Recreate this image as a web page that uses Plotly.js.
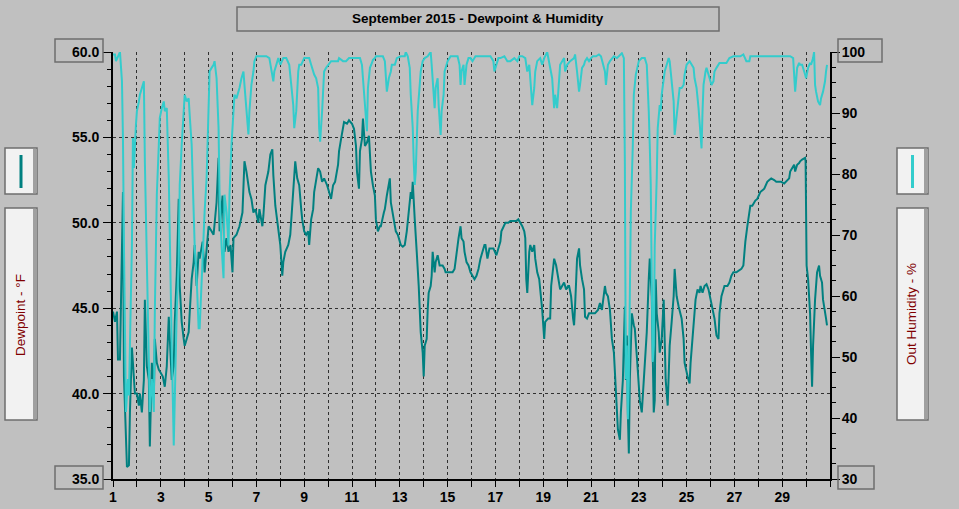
<!DOCTYPE html>
<html>
<head>
<meta charset="utf-8">
<script src="https://cdn.plot.ly/plotly-3.0.1.min.js"></script>
<style>
  html, body { margin: 0; padding: 0; background: #c0c0c0; }
  #myDiv { width: 959px; height: 509px; }
</style>
</head>
<body>
<div id="myDiv"></div>
<script>
/**************************************************************/
// readings: hours since Sep 1 00:00
var dewHour = [0,2,4,5,7,9,10,11,12,14,16,17,19,21,22,24,26,27,29,31,32,34,36,37,39,41,42,44,46,48,50,52,54,56,57,59,61,62,64,66,67,69,71,72,74,76,77,79,81,82,84,86,87,90,92,94,96,99,101,104,106,107,110,112,114,116,118,120,121,124,127,130,132,134,136,137,139,141,143,146,147,150,151,153,156,158,160,161,163,166,168,170,171,173,176,178,180,182,183,185,187,189,190,192,194,196,197,199,201,202,204,206,208,210,212,215,217,219,221,223,226,227,229,231,232,235,237,240,242,244,245,247,248,250,251,253,255,257,259,261,263,264,266,268,269,272,273,275,277,278,279,281,283,284,286,288,289,291,293,295,297,299,300,301,303,304,305,307,308,309,311,312,313,315,316,317,319,320,321,323,324,326,328,329,331,333,334,336,339,341,343,345,347,349,350,352,353,355,357,359,361,363,365,367,369,371,373,374,376,378,380,382,385,387,389,390,392,394,397,399,402,405,407,409,411,413,414,415,416,418,419,421,423,424,426,428,429,431,433,434,437,439,440,442,443,445,447,449,451,453,455,457,458,460,462,463,464,466,468,469,471,473,474,476,478,480,482,484,487,489,491,493,494,495,497,499,501,503,505,506,507,509,510,512,513,514,515,516,517,518,519,521,523,524,526,528,529,531,533,534,536,538,539,541,542,543,544,545,546,548,549,551,553,554,555,557,558,559,561,563,564,566,568,569,571,573,574,577,579,580,582,584,585,587,589,590,592,594,596,598,601,603,604,606,608,609,611,613,614,617,619,621,623,626,629,631,633,634,635,637,639,640,642,644,645,647,649,650,654,657,659,661,664,666,669,671,674,676,679,680,682,684,685,687,689,690,692,695,695.5,696,696.5,698,700,701,702,703,704,705,707,709,710,712,713,715,716,717];
var dewF = [44.8,44.2,44.8,42.0,42.0,47.3,51.8,41.0,38.9,35.7,35.8,38.9,42.7,41.0,40.0,40.0,39.3,40.0,38.9,40.8,45.5,41.6,40.8,36.9,41.8,39.8,43.2,41.8,41.4,41.2,41.0,40.4,41.6,44.5,43.4,40.8,41.6,44.2,46.9,51.4,46.3,44.2,43.2,42.8,43.2,43.6,44.7,46.7,47.7,48.7,46.3,48.3,47.9,48.9,47.1,48.3,49.8,49.5,49.3,51.2,53.8,49.5,51.6,48.3,49.1,48.3,48.7,47.1,49.1,49.3,49.8,50.6,53.6,53.0,52.0,51.8,51.4,50.6,50.8,50.0,50.8,49.8,50.4,52.2,53.0,54.0,54.3,52.8,51.0,49.6,48.7,46.9,47.7,48.3,48.7,49.3,51.0,53.0,53.6,52.6,52.2,50.8,50.2,49.5,49.3,49.5,48.7,50.2,50.8,51.8,52.6,53.2,53.0,52.4,52.6,52.2,51.8,51.4,52.2,52.4,53.4,54.2,54.9,55.5,55.9,55.8,56.0,55.8,55.5,54.5,53.0,52.0,54.2,54.9,56.1,54.5,54.7,55.1,53.0,52.2,51.6,50.2,49.5,49.8,49.8,50.6,50.8,51.6,52.2,52.6,51.2,50.6,49.8,49.5,49.3,48.9,48.7,48.6,48.7,49.5,50.6,51.8,51.4,52.4,50.2,48.7,48.3,46.3,44.9,43.6,42.4,41.0,42.8,43.2,44.9,45.9,46.3,46.9,48.3,47.1,47.7,48.1,47.5,47.5,47.5,47.3,47.1,47.1,47.1,47.1,47.3,48.3,49.1,49.8,49.1,48.9,48.3,47.7,47.5,47.1,46.9,46.7,46.9,47.3,47.9,48.3,48.7,48.7,47.9,48.5,48.5,48.5,48.1,48.5,48.9,49.5,49.8,50.0,50.0,50.1,50.1,50.1,50.2,50.0,49.8,49.5,49.1,46.7,45.9,48.3,48.7,48.3,48.7,47.9,47.1,46.7,46.1,44.9,43.2,44.2,44.4,44.4,46.3,47.5,47.9,47.5,46.9,46.1,46.3,46.5,46.1,46.3,46.3,45.7,44.4,44.0,45.1,47.9,48.5,47.5,46.7,46.1,44.5,44.4,44.7,44.7,44.7,44.7,44.9,45.3,44.9,45.7,46.3,45.9,45.7,44.9,43.2,42.4,40.4,38.9,37.9,37.3,38.9,40.8,43.8,45.1,40.8,43.4,38.9,36.5,40.8,44.7,44.0,43.8,42.2,40.8,39.6,38.9,40.8,41.8,43.6,46.7,47.9,45.7,42.8,38.9,39.6,46.7,44.7,43.6,42.4,43.2,45.5,43.8,40.8,39.3,40.8,42.8,44.2,45.7,47.3,45.7,45.1,44.9,44.4,43.2,41.8,41.0,40.6,41.8,43.4,44.7,45.5,46.1,45.9,46.3,45.9,46.3,46.4,46.1,45.3,44.7,44.4,43.4,43.2,44.7,45.7,46.1,46.3,46.3,46.5,46.9,47.1,47.1,47.2,47.3,47.5,48.3,48.9,49.8,50.8,51.0,51.0,51.2,51.3,51.4,51.7,51.8,52.0,52.4,52.5,52.6,52.5,52.4,52.4,52.4,52.3,52.4,52.6,53.0,53.2,53.4,53.0,53.4,53.5,53.6,53.7,53.8,53.6,50.6,47.5,46.7,44.7,42.4,40.4,42.8,44.7,45.5,47.1,47.5,46.9,46.5,45.5,44.9,44.4,44.0];

var humHour = [0,2,3,6,7,9,10,11,12,13,15,16,17,19,20,21,23,24,26,27,29,31,32,33,34,36,37,39,41,42,44,46,47,49,51,52,54,56,57,58,59,61,62,64,66,67,69,71,72,74,76,77,79,81,82,84,86,87,89,91,92,94,96,97,99,101,102,104,106,107,109,111,112,114,116,117,119,121,122,124,126,127,129,131,132,134,136,137,139,141,142,144,147,151,154,157,159,161,162,164,166,168,171,174,177,179,181,182,184,186,187,189,191,192,196,197,199,201,202,204,206,207,208,210,212,214,216,219,222,226,227,231,234,237,240,244,248,250,252,253,255,256,258,260,261,263,264,268,271,273,274,275,277,279,280,283,285,288,289,293,294,296,298,299,301,302,303,304,305,306,308,309,311,313,316,319,320,322,323,324,326,327,329,330,332,333,335,336,339,343,346,348,349,350,352,353,355,357,359,361,364,369,374,379,382,383,385,387,389,393,396,399,403,406,408,411,414,416,418,419,421,423,424,426,429,431,433,436,438,439,441,443,444,446,448,449,453,454,456,459,463,464,466,468,469,471,473,474,476,478,480,482,485,488,490,492,494,495,497,499,501,503,506,508,511,513,513.5,514,514.5,515,516,517,518,519,520,522,523,525,527,528,531,534,536,537,538,539,540,541,542,543,544,546,547,549,550,551,553,554,556,558,559,560,561,563,564,566,568,569,571,573,574,576,579,581,583,584,586,588,589,591,592,593,595,596,598,599,601,603,604,606,609,613,616,619,623,627,630,633,636,639,640,644,647,660,672,680,683,684,685,687,689,690,692,695,696,698,700,701,703,704,705,706,708,710,711,713,715,716,717];
var humPct = [99.6,99.6,98.5,99.6,100,95.2,85.9,68.3,47.5,41,46.4,43.7,51.9,68.3,85.9,81,88,90.3,91.9,93,94.1,95.2,82,73.8,59.6,46.4,41,46.4,41,57.4,76.6,84.8,89.2,90.8,91.9,90.3,90.8,79.3,68.3,60.1,51.9,35.5,43.7,57.4,65.6,78.2,84.8,91.3,93,91.9,92.4,89.7,84.8,73.8,68.3,62.9,54.7,54.7,62.9,68.3,73.8,79.3,90.3,96.8,97.4,97.9,98.5,95.7,87.5,76.6,68.3,62.9,76.6,73.8,68.3,76.6,84.8,91.3,93,92.4,93.5,94.1,95.7,96.8,94.6,90.3,86.5,90.3,94.6,96.8,98.5,99.3,99.3,99.3,99.3,99,97.4,95.2,96.8,97.9,99,97.9,99,99,97.9,94.6,91.3,87.5,90.3,96.8,97.9,97.9,98.5,99,99,99,97.9,96.8,96.3,95.7,94.1,87.5,85.3,90.3,96.8,97.4,97.9,98.5,98.5,98.5,99,98.5,98.5,99,99,99,99,97.9,93,90.3,87,94.1,97.4,98.2,98.7,99,99.3,99.3,99.3,98.5,96.3,93.5,95.7,96.8,97.9,97.9,99,99.3,99.3,99.3,100,99.3,97.4,93,87.5,82,78.2,80.3,85.9,90.3,94.6,96.8,98.5,99,99.3,100,97.9,93,90.8,94.1,95.7,91.3,86.4,90.3,93,96.8,97.9,98.5,99.3,99.3,99.3,97.9,94.6,96.8,97.9,94.6,97.9,99,99,98.5,99.3,99.3,99.3,99.3,98.5,96.8,97.9,99,99,99.3,98.5,98.5,99,98.5,99.3,99.3,99,96.8,97.9,95.2,91.3,94.1,96.8,98.5,99,97.9,99,100,98.5,97.4,95.7,90.8,93,90.8,96.3,97.9,99,96.8,97.9,98.5,99,99.6,96.8,93.5,94.6,97.4,97.9,98.5,99,98.5,99,99.3,99.3,99.6,99.3,97.9,96.8,94.6,97.9,98.5,99,99.3,99,99.3,99.8,99,91.3,82,62.9,46.4,51.9,39.8,46.4,62.9,73.8,84.8,93,96.3,97.9,98.5,99,99,97.9,94.6,90.3,84.8,78.2,62.9,49.2,51.9,68.3,79.3,87.5,91.3,90.3,93,95.7,96.8,97.9,99,98.5,96.8,95.7,91.9,86.4,89.1,92.4,94.1,94.1,94.6,96.3,97.9,98.5,97.9,97.4,95.7,94.1,90.8,88.6,84.2,90.3,94.6,96.8,97.4,96.3,95.7,94.6,95.2,96.8,97.4,98.2,98.2,98.2,99,99.3,99.3,99.3,99.6,98.5,98.5,99.3,99.3,99.3,99.3,99.3,99.3,99,96.8,93.5,97.4,98.2,97.9,97.9,96.3,95.7,97.4,98.2,97.9,99,100,94.6,93.5,91.9,91.3,92.4,93.5,95.2,96.8,97.9];

var dayTicks = [];
var dayLabels = [];
for (var d = 1; d <= 31; d++) {
  dayTicks.push(d);
  dayLabels.push((d % 2 == 1 && d < 31) ? String(d) : "");
}

var titleText = "September 2015 - Dewpoint & Humidity";
var dewName = "Dewpoint - °F";
var humName = "Out Humidity - %";

var dewColor = "#008080";
var humColor = "#33cccc";

/**************************************************************/
function hoursToDay(h) {
  return h.map(function(v) { return 1 + v / 24; });
}

// pixel helpers for the decoration boxes around the plot area
var L = 113, T = 52, W = 717, H = 427;
function px(x) { return (x - L) / W; }
function py(y) { return 1 - (y - T) / H; }

function box(x0, y0, x1, y1, fill) {
  return {
    type: 'rect', xref: 'paper', yref: 'paper', layer: 'above',
    x0: px(x0), x1: px(x1), y0: py(y0), y1: py(y1),
    line: { color: '#6e6e6e', width: 1.5 },
    fillcolor: fill || 'rgba(0,0,0,0)'
  };
}
function strip(x0, y0, x1, y1, fill) {
  return {
    type: 'rect', xref: 'paper', yref: 'paper', layer: 'above',
    x0: px(x0), x1: px(x1), y0: py(y0), y1: py(y1),
    line: { width: 0 }, fillcolor: fill
  };
}
function glyph(x, color) {
  return {
    type: 'line', xref: 'paper', yref: 'paper', layer: 'above',
    x0: px(x), x1: px(x), y0: py(155), y1: py(188),
    line: { color: color, width: 3 }
  };
}

var tickFont = { family: 'Liberation Sans, Arial, sans-serif', size: 14, color: '#000', weight: 'bold' };

var data = [
  { x: hoursToDay(dewHour), y: dewF, name: dewName, type: 'scatter', mode: 'lines',
    line: { color: dewColor, width: 2 }, yaxis: 'y' },
  { x: hoursToDay(humHour), y: humPct, name: humName, type: 'scatter', mode: 'lines',
    line: { color: humColor, width: 2 }, yaxis: 'y2' }
];

var layout = {
  width: 959, height: 509,
  paper_bgcolor: '#c0c0c0', plot_bgcolor: '#c0c0c0',
  margin: { l: L, r: 959 - L - W, t: T, b: 509 - T - H, pad: 0 },
  showlegend: false,
  hovermode: false,
  xaxis: {
    range: [1, 31], tickmode: 'array', tickvals: dayTicks, ticktext: dayLabels,
    ticks: 'outside', ticklen: 6, tickwidth: 1, tickcolor: '#000',
    showline: true, linecolor: '#000', linewidth: 2,
    showgrid: true, gridcolor: '#303030', gridwidth: 1, griddash: '3px,3px',
    zeroline: false, tickfont: tickFont, ticklabelstandoff: -2, fixedrange: true
  },
  yaxis: {
    range: [35, 60], tick0: 35, dtick: 5, tickformat: '.1f',
    ticks: 'outside', ticklen: 8, tickwidth: 1, tickcolor: '#000',
    minor: { dtick: 1, ticks: 'outside', ticklen: 4, tickwidth: 1, tickcolor: '#000', showgrid: false },
    showline: true, linecolor: '#000', linewidth: 2,
    showgrid: true, gridcolor: '#303030', gridwidth: 1, griddash: '3px,3px',
    zeroline: false, tickfont: tickFont, ticklabelstandoff: 1, fixedrange: true
  },
  yaxis2: {
    overlaying: 'y', side: 'right', range: [30, 100], tick0: 30, dtick: 10,
    ticks: 'outside', ticklen: 8, tickwidth: 1, tickcolor: '#000',
    minor: { dtick: 2.5, ticks: 'outside', ticklen: 4, tickwidth: 1, tickcolor: '#000', showgrid: false },
    showline: true, linecolor: '#000', linewidth: 2,
    showgrid: false, zeroline: false, tickfont: tickFont, ticklabelstandoff: -1, fixedrange: true
  },
  shapes: [
    box(237, 7, 719, 31),
    box(55, 39, 103, 62),
    box(55, 466, 103, 489),
    box(838, 39, 882, 62),
    box(838, 466, 874, 489),
    box(5, 148, 37, 194, '#f2f2f2'),
    strip(33, 149, 37, 193, '#a0a0a0'),
    box(5, 208, 37, 420, '#f2f2f2'),
    strip(33, 209, 37, 419, '#a0a0a0'),
    box(897, 148, 928, 194, '#f2f2f2'),
    strip(924, 149, 928, 193, '#a0a0a0'),
    box(897, 208, 928, 420, '#f2f2f2'),
    strip(924, 209, 928, 419, '#a0a0a0'),
    glyph(21, dewColor),
    glyph(912.5, humColor)
  ],
  annotations: [
    { text: titleText, xref: 'paper', yref: 'paper', x: px(478), y: py(19),
      showarrow: false, xanchor: 'center', yanchor: 'middle',
      font: { family: 'Liberation Sans, Arial, sans-serif', size: 13.5, color: '#000', weight: 'bold' } },
    { text: dewName, xref: 'paper', yref: 'paper', x: px(20), y: py(315), textangle: -90,
      showarrow: false, xanchor: 'center', yanchor: 'middle',
      font: { family: 'Liberation Sans, Arial, sans-serif', size: 13.5, color: '#800000' } },
    { text: humName, xref: 'paper', yref: 'paper', x: px(911), y: py(314), textangle: -90,
      showarrow: false, xanchor: 'center', yanchor: 'middle',
      font: { family: 'Liberation Sans, Arial, sans-serif', size: 13.5, color: '#800000' } }
  ]
};

Plotly.newPlot('myDiv', data, layout, { displayModeBar: false, staticPlot: true });
</script>
</body>
</html>
